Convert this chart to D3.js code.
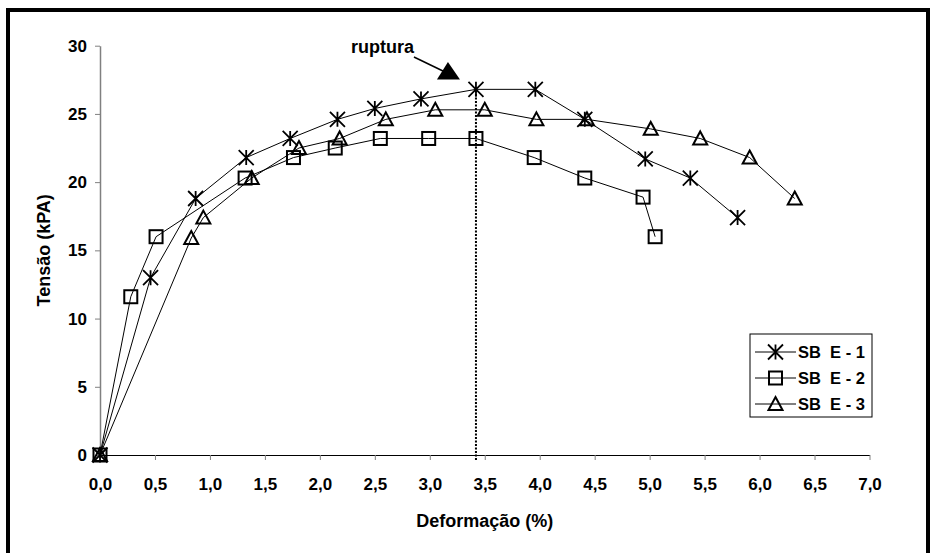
<!DOCTYPE html>
<html>
<head>
<meta charset="utf-8">
<script src="https://cdn.jsdelivr.net/npm/d3@7"></script>
<style>
  html, body { margin: 0; padding: 0; background: #fff; }
  svg { display: block; }
  text { font-family: "Liberation Sans", Arial, sans-serif; font-weight: bold; fill: #000; white-space: pre; }
</style>
</head>
<body>
<svg id="chart" width="932" height="553"></svg>
<script>
// ---- data ----
const seriesNames = ["SB  E - 1", "SB  E - 2", "SB  E - 3"];
const strainE1 = [0, 0.46, 0.87, 1.33, 1.73, 2.16, 2.50, 2.92, 3.42, 3.96, 4.41, 4.96, 5.37, 5.80];
const stressE1 = [0, 13.0, 18.8, 21.8, 23.2, 24.6, 25.4, 26.1, 26.8, 26.8, 24.6, 21.7, 20.3, 17.4];
const strainE2 = [0, 0.28, 0.51, 1.32, 1.76, 2.14, 2.55, 2.99, 3.42, 3.95, 4.41, 4.94, 5.05];
const stressE2 = [0, 11.6, 16.0, 20.3, 21.8, 22.5, 23.2, 23.2, 23.2, 21.8, 20.3, 18.9, 16.0];
const strainE3 = [0, 0.83, 0.94, 1.38, 1.81, 2.18, 2.60, 3.05, 3.50, 3.97, 4.43, 5.01, 5.46, 5.91, 6.32];
const stressE3 = [0, 15.9, 17.4, 20.3, 22.5, 23.2, 24.6, 25.3, 25.3, 24.6, 24.6, 23.9, 23.2, 21.8, 18.8];
const xTicks = [0, 0.5, 1, 1.5, 2, 2.5, 3, 3.5, 4, 4.5, 5, 5.5, 6, 6.5, 7];
const yTicks = [0, 5, 10, 15, 20, 25, 30];
const ruptureStrain = 3.42;
const ruptureStress = 26.8;
const xTitle = "Deformação (%)";
const yTitle = "Tensão (kPA)";
const annotation = "ruptura";

// ---- chart ----
const svg = d3.select("#chart");
const x = d3.scaleLinear().domain([0, 7]).range([100, 869.5]);
const y = d3.scaleLinear().domain([0, 30]).range([455, 45.7]);

// outer frame
svg.append("rect").attr("x", 8).attr("y", 10).attr("width", 920).attr("height", 560)
  .attr("fill", "none").attr("stroke", "#000").attr("stroke-width", 4);

const fmt = d => d.toFixed(1).replace(".", ",");

// x axis
const xAxis = svg.append("g").attr("transform", `translate(0,${y(0)})`)
  .call(d3.axisBottom(x).tickValues(xTicks).tickFormat(fmt).tickSize(5).tickSizeOuter(0));
xAxis.select(".domain").attr("stroke", "#000");
xAxis.selectAll(".tick line").attr("stroke", "#808080");
xAxis.selectAll(".tick text").attr("y", 23).attr("dy", "0.71em").attr("font-size", 17);

// y axis
const yAxis = svg.append("g").attr("transform", `translate(${x(0)},0)`)
  .call(d3.axisLeft(y).tickValues(yTicks).tickSize(5).tickSizeOuter(0));
yAxis.select(".domain").attr("stroke", "#808080").attr("stroke-width", 1.5);
yAxis.selectAll(".tick line").attr("stroke", "#808080");
yAxis.selectAll(".tick text").attr("x", -13).attr("font-size", 17);
svg.selectAll(".tick text").style("font-family", "'Liberation Sans', Arial, sans-serif").style("font-weight", "bold").attr("fill", "#000");

// titles
svg.append("text").attr("x", (x(0) + x(7)) / 2).attr("y", 527).attr("text-anchor", "middle")
  .attr("font-size", 18).text(xTitle);
svg.append("text").attr("transform", `translate(50,${(y(0) + y(30)) / 2}) rotate(-90)`)
  .attr("text-anchor", "middle").attr("font-size", 18).text(yTitle);

// rupture dotted line
svg.append("line").attr("x1", x(ruptureStrain)).attr("x2", x(ruptureStrain))
  .attr("y1", y(0) + 5).attr("y2", y(ruptureStress))
  .attr("stroke", "#000").attr("stroke-width", 2).attr("stroke-dasharray", "2,1.5");

// markers
function drawMarker(g, kind, cx, cy) {
  if (kind === 0) {
    const r = 7.5;
    g.append("path").attr("d",
      `M${cx - r},${cy - r}L${cx + r},${cy + r}M${cx - r},${cy + r}L${cx + r},${cy - r}M${cx},${cy - r}L${cx},${cy + r}`)
      .attr("stroke", "#000").attr("stroke-width", 1.8).attr("fill", "none");
  } else if (kind === 1) {
    const s = 6.5;
    g.append("rect").attr("x", cx - s).attr("y", cy - s).attr("width", 2 * s).attr("height", 2 * s)
      .attr("fill", "none").attr("stroke", "#000").attr("stroke-width", 2);
  } else {
    const s = 7;
    g.append("path").attr("d", `M${cx},${cy - s}L${cx + s},${cy + s * 0.85}L${cx - s},${cy + s * 0.85}Z`)
      .attr("fill", "none").attr("stroke", "#000").attr("stroke-width", 2);
  }
}

const series = [
  { xs: strainE1, ys: stressE1 },
  { xs: strainE2, ys: stressE2 },
  { xs: strainE3, ys: stressE3 }
];
const line = d3.line().x(d => x(d[0])).y(d => y(d[1]));
series.forEach((s, i) => {
  const pts = s.xs.map((v, k) => [v, s.ys[k]]);
  const g = svg.append("g");
  g.append("path").attr("d", line(pts)).attr("fill", "none").attr("stroke", "#000").attr("stroke-width", 1);
  pts.forEach(p => drawMarker(g, i, x(p[0]), y(p[1])));
});

// annotation "ruptura" with arrow
const ax = x(ruptureStrain), ay = y(ruptureStress);
svg.append("text").attr("x", ax - 62).attr("y", 53).attr("text-anchor", "end").attr("font-size", 18).text(annotation);
svg.append("line").attr("x1", ax - 62).attr("y1", 57).attr("x2", ax - 33).attr("y2", 71)
  .attr("stroke", "#000").attr("stroke-width", 1.5);
svg.append("path").attr("d", `M${ax - 28},${62}L${ax - 16},${79.5}L${ax - 39},${79.5}Z`).attr("fill", "#000");

// legend
const lg = svg.append("g");
lg.append("rect").attr("x", 750).attr("y", 334).attr("width", 122).attr("height", 83)
  .attr("fill", "#fff").attr("stroke", "#000").attr("stroke-width", 1);
seriesNames.forEach((name, i) => {
  const ly = 352 + i * 26;
  lg.append("line").attr("x1", 755).attr("x2", 796).attr("y1", ly).attr("y2", ly).attr("stroke", "#000").attr("stroke-width", 1);
  drawMarker(lg, i, 775.5, ly);
  lg.append("text").attr("x", 798).attr("y", ly + 6).attr("font-size", 16.5).text(name);
});
</script>
</body>
</html>
